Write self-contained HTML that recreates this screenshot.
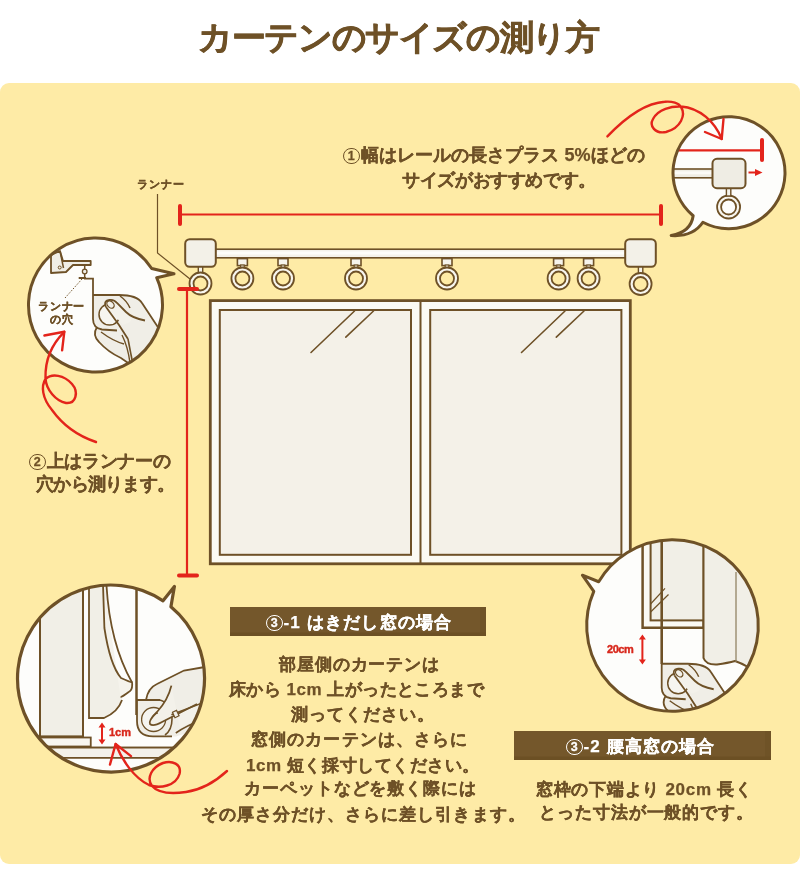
<!DOCTYPE html>
<html lang="ja">
<head>
<meta charset="utf-8">
<style>
html,body{margin:0;padding:0;background:#fff;}
body{width:800px;height:880px;position:relative;overflow:hidden;font-family:"Liberation Sans",sans-serif;color:#6e5127;}
.panel{position:absolute;left:0;top:83px;width:800px;height:781px;background:#feeba6;border-radius:9px;}
svg{position:absolute;left:0;top:0;}
.t{position:absolute;white-space:nowrap;font-weight:bold;line-height:1;-webkit-font-smoothing:antialiased;will-change:transform;}
.title{left:0;width:800px;top:20px;font-size:34px;}
.cd{display:inline-block;box-sizing:border-box;width:16.5px;height:16.5px;border:1.1px solid currentColor;border-radius:50%;font-family:"Liberation Sans",sans-serif;font-size:12.5px;line-height:15px;text-align:center;vertical-align:1.5px;-webkit-text-stroke:0.3px currentColor;letter-spacing:0;margin-right:1px;}
.bar{position:absolute;background:#74572b;box-shadow:inset 0 -3.5px 0 #6c5024, inset -6px 0 0 #6f5327;color:#fff;font-weight:bold;text-align:center;white-space:nowrap;}
</style>
</head>
<body>
<div class="panel"></div>
<svg width="800" height="880" viewBox="0 0 800 880">
<defs><clipPath id="cl1"><circle cx="95.5" cy="305" r="67"/></clipPath><clipPath id="cl2"><circle cx="729" cy="172.7" r="56"/></clipPath><clipPath id="cl3"><circle cx="111" cy="678.5" r="93.5"/></clipPath><clipPath id="cl4"><circle cx="672.5" cy="625.5" r="85.8"/></clipPath></defs>
<polyline points="157.5,194 157.5,253 190,279" fill="none" stroke="#6e5127" stroke-width="1.2"/>
<line x1="180" y1="214.5" x2="661" y2="214.5" stroke="#e3241b" stroke-width="2.2"/>
<line x1="180" y1="206" x2="180" y2="224" stroke="#e3241b" stroke-width="4" stroke-linecap="round"/>
<line x1="661" y1="206" x2="661" y2="224" stroke="#e3241b" stroke-width="4" stroke-linecap="round"/>
<rect x="212" y="249.2" width="416" height="8.6" fill="#f4f2ea" stroke="#6e5127" stroke-width="1.6"/>
<rect x="212" y="251.5" width="416" height="3" fill="#fdfdf9"/>
<rect x="237.4" y="258.6" width="10" height="7" fill="#f6f4ec" stroke="#6e5127" stroke-width="1.6"/><rect x="240.6" y="265" width="3.6" height="5" fill="#f6f4ec" stroke="#6e5127" stroke-width="1.2"/><circle cx="242.4" cy="278.5" r="9" fill="none" stroke="#6e5127" stroke-width="5.8"/><circle cx="242.4" cy="278.5" r="9" fill="none" stroke="#f8f6ef" stroke-width="2.2"/>
<rect x="278" y="258.6" width="10" height="7" fill="#f6f4ec" stroke="#6e5127" stroke-width="1.6"/><rect x="281.2" y="265" width="3.6" height="5" fill="#f6f4ec" stroke="#6e5127" stroke-width="1.2"/><circle cx="283" cy="278.5" r="9" fill="none" stroke="#6e5127" stroke-width="5.8"/><circle cx="283" cy="278.5" r="9" fill="none" stroke="#f8f6ef" stroke-width="2.2"/>
<rect x="351" y="258.6" width="10" height="7" fill="#f6f4ec" stroke="#6e5127" stroke-width="1.6"/><rect x="354.2" y="265" width="3.6" height="5" fill="#f6f4ec" stroke="#6e5127" stroke-width="1.2"/><circle cx="356" cy="278.5" r="9" fill="none" stroke="#6e5127" stroke-width="5.8"/><circle cx="356" cy="278.5" r="9" fill="none" stroke="#f8f6ef" stroke-width="2.2"/>
<rect x="442" y="258.6" width="10" height="7" fill="#f6f4ec" stroke="#6e5127" stroke-width="1.6"/><rect x="445.2" y="265" width="3.6" height="5" fill="#f6f4ec" stroke="#6e5127" stroke-width="1.2"/><circle cx="447" cy="278.5" r="9" fill="none" stroke="#6e5127" stroke-width="5.8"/><circle cx="447" cy="278.5" r="9" fill="none" stroke="#f8f6ef" stroke-width="2.2"/>
<rect x="553.6" y="258.6" width="10" height="7" fill="#f6f4ec" stroke="#6e5127" stroke-width="1.6"/><rect x="556.8000000000001" y="265" width="3.6" height="5" fill="#f6f4ec" stroke="#6e5127" stroke-width="1.2"/><circle cx="558.6" cy="278.5" r="9" fill="none" stroke="#6e5127" stroke-width="5.8"/><circle cx="558.6" cy="278.5" r="9" fill="none" stroke="#f8f6ef" stroke-width="2.2"/>
<rect x="583.6" y="258.6" width="10" height="7" fill="#f6f4ec" stroke="#6e5127" stroke-width="1.6"/><rect x="586.8000000000001" y="265" width="3.6" height="5" fill="#f6f4ec" stroke="#6e5127" stroke-width="1.2"/><circle cx="588.6" cy="278.5" r="9" fill="none" stroke="#6e5127" stroke-width="5.8"/><circle cx="588.6" cy="278.5" r="9" fill="none" stroke="#f8f6ef" stroke-width="2.2"/>
<rect x="198.3" y="266" width="4.4" height="7.5" fill="#f6f4ec" stroke="#6e5127" stroke-width="1.4"/><circle cx="200.5" cy="283.5" r="9" fill="none" stroke="#6e5127" stroke-width="5.8"/><circle cx="200.5" cy="283.5" r="9" fill="none" stroke="#f8f6ef" stroke-width="2.2"/>
<rect x="638.4" y="266" width="4.4" height="8" fill="#f6f4ec" stroke="#6e5127" stroke-width="1.4"/><circle cx="640.6" cy="284" r="9" fill="none" stroke="#6e5127" stroke-width="5.8"/><circle cx="640.6" cy="284" r="9" fill="none" stroke="#f8f6ef" stroke-width="2.2"/>
<rect x="185.2" y="239.2" width="30.6" height="27.6" rx="4.5" fill="#f3f1e8" stroke="#6e5127" stroke-width="2"/>
<rect x="625.2" y="239.2" width="30.6" height="27.6" rx="4.5" fill="#f3f1e8" stroke="#6e5127" stroke-width="2"/>
<line x1="187" y1="289" x2="187" y2="575" stroke="#e3241b" stroke-width="2.2"/>
<line x1="179" y1="289" x2="197" y2="289" stroke="#e3241b" stroke-width="4" stroke-linecap="round"/>
<line x1="179" y1="575.5" x2="197" y2="575.5" stroke="#e3241b" stroke-width="4" stroke-linecap="round"/>
<rect x="210.3" y="300.6" width="420" height="263.2" fill="#fbfaf3" stroke="#6e5127" stroke-width="2.8"/>
<rect x="219.8" y="310" width="191.2" height="244.8" fill="#f4f1e8" stroke="#6e5127" stroke-width="2"/>
<rect x="430.2" y="310" width="191.2" height="244.8" fill="#f4f1e8" stroke="#6e5127" stroke-width="2"/>
<line x1="420.5" y1="300" x2="420.5" y2="564" stroke="#6e5127" stroke-width="2"/>
<line x1="311" y1="352.5" x2="354.5" y2="311" stroke="#6e5127" stroke-width="1.6" stroke-linecap="round"/>
<line x1="345.8" y1="337.2" x2="373.5" y2="311" stroke="#6e5127" stroke-width="1.6" stroke-linecap="round"/>
<line x1="521.5" y1="352.5" x2="565.0" y2="311" stroke="#6e5127" stroke-width="1.6" stroke-linecap="round"/>
<line x1="556.3" y1="337.2" x2="584.0" y2="311" stroke="#6e5127" stroke-width="1.6" stroke-linecap="round"/>
<path d="M151.71,268.54 L174,273.8 L156.68,277.69 A67,67 0 1 1 151.71,268.54 Z" fill="#fdfdfb" stroke="none"/>
<g clip-path="url(#cl1)"><path d="M51,255 L60,251 L63,261 L90.7,261 L90.7,265 L73,265 L66,272 L51,273 Z" fill="#f0eee6" stroke="#6e5127" stroke-width="1.8" stroke-linejoin="round"/><line x1="60" y1="251" x2="63.5" y2="268" stroke="#6e5127" stroke-width="1.5"/><circle cx="59.7" cy="267.5" r="1.5" fill="none" stroke="#6e5127" stroke-width="1"/><line x1="84.7" y1="265" x2="84.7" y2="278" stroke="#6e5127" stroke-width="1.5"/><circle cx="84.7" cy="271.5" r="2.3" fill="#f0eee6" stroke="#6e5127" stroke-width="1.3"/><line x1="78.7" y1="278" x2="86" y2="278" stroke="#6e5127" stroke-width="1.8"/><polyline points="84,278.7 93,278.7 93,295" fill="none" stroke="#6e5127" stroke-width="1.8"/><line x1="65" y1="298" x2="82" y2="279" stroke="#6e5127" stroke-width="1" stroke-dasharray="1.5,1.5"/><g transform="translate(93,295) scale(1.0)"><path d="M0,0 L26,0 Q44,0 49,8 L80,56 L80,90 L40,72 L30,63 Q14,56 5,46 Q0,38 3,33 Q0,30 0,24 Z" fill="#f0eee7"/><path d="M0,0 L26,0 Q44,0 49,8 L78,52" fill="none" stroke="#6e5127" stroke-width="1.8"/><path d="M0,0 L0,24 Q0,33 9,34.5 L24,35.5" fill="none" stroke="#6e5127" stroke-width="1.8"/><circle cx="16.5" cy="19.5" r="10.5" fill="#f6f5f0" stroke="#6e5127" stroke-width="1.5"/><path d="M12,10 Q12,4 19,5 Q24,6 30,14 L37,22 Q40,26 35,28 L30,30 Z" fill="#f3f1ea"/><path d="M13,12 L26,30 L35,44" fill="none" stroke="#6e5127" stroke-width="1.8"/><path d="M13,12 Q10,6 16,5 Q21,4 24,8 Q30,14 33,17 Q39,23 52,25.5" fill="none" stroke="#6e5127" stroke-width="1.8"/><ellipse cx="17.5" cy="9.5" rx="4.2" ry="3" transform="rotate(45 17.5 9.5)" fill="none" stroke="#6e5127" stroke-width="1.3"/><path d="M27,1 Q34,6 37,13" fill="none" stroke="#6e5127" stroke-width="1.5"/><path d="M4,32 Q-1,40 6,47 Q15,57 28,63 L38,70" fill="none" stroke="#6e5127" stroke-width="1.8"/><path d="M8,37 Q20,46 31,49" fill="none" stroke="#6e5127" stroke-width="1.4"/><path d="M29,40 Q35,52 37,68" fill="none" stroke="#6e5127" stroke-width="1.4"/><path d="M35,44 L40,70" fill="none" stroke="#6e5127" stroke-width="1.6"/></g></g>
<path d="M151.71,268.54 L174,273.8 L156.68,277.69 A67,67 0 1 1 151.71,268.54 Z" fill="none" stroke="#6e5127" stroke-width="3" stroke-linejoin="round"/>
<path d="M693.16,215.73 Q691,232 671.2,235.5 Q693,237 702.86,222.23 A56,56 0 1 0 693.16,215.73 Z" fill="#fdfdfb" stroke="none"/>
<g clip-path="url(#cl2)"><line x1="660" y1="150.3" x2="762" y2="150.3" stroke="#e3241b" stroke-width="2.2"/><line x1="762" y1="140" x2="762" y2="160" stroke="#e3241b" stroke-width="4" stroke-linecap="round"/><rect x="660" y="169" width="54" height="8.8" fill="#efede4" stroke="#6e5127" stroke-width="1.6"/><rect x="660" y="171.3" width="53" height="3" fill="#fbfaf6"/><circle cx="728.6" cy="207" r="9.5" fill="none" stroke="#6e5127" stroke-width="5.8"/><circle cx="728.6" cy="207" r="9.5" fill="none" stroke="#f8f6ef" stroke-width="2.2"/><rect x="726.4" y="188" width="4.4" height="8" fill="#f6f4ec" stroke="#6e5127" stroke-width="1.4"/><rect x="712.5" y="158.8" width="33" height="29.4" rx="4.5" fill="#efede4" stroke="#6e5127" stroke-width="2"/><line x1="748.5" y1="172.5" x2="757" y2="172.5" stroke="#e3241b" stroke-width="2"/><path d="M755,169 L762.5,172.5 L755,176 Z" fill="#e3241b"/></g>
<path d="M693.16,215.73 Q691,232 671.2,235.5 Q693,237 702.86,222.23 A56,56 0 1 0 693.16,215.73 Z" fill="none" stroke="#6e5127" stroke-width="3" stroke-linejoin="round"/>
<path d="M163.04,600.82 L174.4,586.4 L170.92,606.72 A93.5,93.5 0 1 1 163.04,600.82 Z" fill="#fdfdfb" stroke="none"/>
<g clip-path="url(#cl3)"><rect x="40" y="560" width="43" height="176.4" fill="#f1efe7" stroke="#6e5127" stroke-width="2"/><path d="M89,560 L89,718 L104,718 Q118,712 124.5,692.5 Q110,660 106,600 L106,560 Z" fill="#f1efe7"/><path d="M89,560 L89,718 L104,718 Q118,712 122,700" fill="none" stroke="#6e5127" stroke-width="1.8"/><path d="M102.7,575 L104.4,628 Q110,665 121,678 Q130,682 132,682.4 Q133,690 128.7,692 Q122,697 120.6,697" fill="#f5f3ec" stroke="#6e5127" stroke-width="1.8"/><path d="M106,575 Q108,640 132,682.4" fill="none" stroke="#6e5127" stroke-width="1.8"/><line x1="136.5" y1="575" x2="136.5" y2="715" stroke="#6e5127" stroke-width="2.5"/><rect x="20" y="737.5" width="70.75" height="9" fill="#f8f6f0" stroke="#6e5127" stroke-width="1.8"/><line x1="10" y1="747.6" x2="220" y2="747.6" stroke="#6e5127" stroke-width="1.8"/><rect x="10" y="747.6" width="210" height="10.2" fill="#f3f1ea"/><line x1="10" y1="757.8" x2="220" y2="757.8" stroke="#6e5127" stroke-width="1.8"/><line x1="10" y1="747.6" x2="220" y2="747.6" stroke="#6e5127" stroke-width="1.8"/><path d="M137,700 L137,722 Q137,736.4 153,736.4 L176,736.4 L210,725 L210,664 L184,670.5 L157,684 Q148,688 146,700 Z" fill="#f0eee7"/><path d="M137,700 L160,700" fill="none" stroke="#6e5127" stroke-width="1.8"/><path d="M137,700 L137,721 Q137,736.4 153,736.4 L172,736.4" fill="none" stroke="#6e5127" stroke-width="1.8"/><path d="M160,700 Q172,704 172,719 Q172,730 165,735" fill="none" stroke="#6e5127" stroke-width="1.6"/><circle cx="153.6" cy="719.5" r="12" fill="#f5f4ef" stroke="#6e5127" stroke-width="1.3"/><path d="M146,700 Q148,688 157,684 L184,670.5 L205,667" fill="none" stroke="#6e5127" stroke-width="1.8"/><path d="M171.4,685.6 Q168,700 157,712 Q148,721 150,724 Q153,727 162,722 L197,703 L210,700 L210,712 L180,728 Z" fill="#f3f1ea"/><path d="M171.4,685.6 Q168,700 157,712 Q148,721 150,724 Q153,727 162,722 L197,704" fill="none" stroke="#6e5127" stroke-width="1.8"/><path d="M152,718 Q153,714 158,713" fill="none" stroke="#6e5127" stroke-width="1.1"/><path d="M171.4,714.8 L205,702" fill="none" stroke="#6e5127" stroke-width="1.6"/><path d="M175.8,733 Q186,726 208,717" fill="none" stroke="#6e5127" stroke-width="1.6"/><rect x="173.5" y="711" width="4.5" height="6" transform="rotate(-25 175.8 714)" fill="#f3f1ea" stroke="#6e5127" stroke-width="1.2"/><line x1="102" y1="726" x2="102" y2="741" stroke="#e3241b" stroke-width="2"/><path d="M98.5,727.5 L102,722.5 L105.5,727.5 Z M98.5,739.5 L102,744.5 L105.5,739.5 Z" fill="#e3241b"/></g>
<path d="M163.04,600.82 L174.4,586.4 L170.92,606.72 A93.5,93.5 0 1 1 163.04,600.82 Z" fill="none" stroke="#6e5127" stroke-width="3.2" stroke-linejoin="round"/>
<path d="M598.69,581.75 L582.4,575.2 L593.8,591.32 A85.8,85.8 0 1 0 598.69,581.75 Z" fill="#fdfdfb" stroke="none"/>
<g clip-path="url(#cl4)"><rect x="642.6" y="530" width="61" height="97.75" fill="#faf9f3" stroke="#6e5127" stroke-width="2.5"/><rect x="650.6" y="530" width="53" height="90.4" fill="#f1efe7" stroke="#6e5127" stroke-width="2"/><line x1="650.6" y1="612" x2="668.5" y2="594.5" stroke="#6e5127" stroke-width="1.2"/><line x1="650.6" y1="604" x2="665" y2="588.4" stroke="#6e5127" stroke-width="1.2"/><path d="M703.5,530 L703.5,658 Q706,665 717,664.5 Q728,663 735,661 Q741,663 748,667 L780,667 L780,530 Z" fill="#f1efe7" stroke="#6e5127" stroke-width="2"/><line x1="736" y1="572" x2="736" y2="662" stroke="#8a7a5a" stroke-width="1.2"/><line x1="661.7" y1="530" x2="661.7" y2="664" stroke="#6e5127" stroke-width="2.6"/><g transform="translate(661.7,663.75) scale(1.0)"><path d="M0,0 L26,0 Q44,0 49,8 L80,56 L80,90 L40,72 L30,63 Q14,56 5,46 Q0,38 3,33 Q0,30 0,24 Z" fill="#f0eee7"/><path d="M0,0 L26,0 Q44,0 49,8 L78,52" fill="none" stroke="#6e5127" stroke-width="1.8"/><path d="M0,0 L0,24 Q0,33 9,34.5 L24,35.5" fill="none" stroke="#6e5127" stroke-width="1.8"/><circle cx="16.5" cy="19.5" r="10.5" fill="#f6f5f0" stroke="#6e5127" stroke-width="1.5"/><path d="M12,10 Q12,4 19,5 Q24,6 30,14 L37,22 Q40,26 35,28 L30,30 Z" fill="#f3f1ea"/><path d="M13,12 L26,30 L35,44" fill="none" stroke="#6e5127" stroke-width="1.8"/><path d="M13,12 Q10,6 16,5 Q21,4 24,8 Q30,14 33,17 Q39,23 52,25.5" fill="none" stroke="#6e5127" stroke-width="1.8"/><ellipse cx="17.5" cy="9.5" rx="4.2" ry="3" transform="rotate(45 17.5 9.5)" fill="none" stroke="#6e5127" stroke-width="1.3"/><path d="M27,1 Q34,6 37,13" fill="none" stroke="#6e5127" stroke-width="1.5"/><path d="M4,32 Q-1,40 6,47 Q15,57 28,63 L38,70" fill="none" stroke="#6e5127" stroke-width="1.8"/><path d="M8,37 Q20,46 31,49" fill="none" stroke="#6e5127" stroke-width="1.4"/><path d="M29,40 Q35,52 37,68" fill="none" stroke="#6e5127" stroke-width="1.4"/><path d="M35,44 L40,70" fill="none" stroke="#6e5127" stroke-width="1.6"/></g><line x1="642.4" y1="638" x2="642.4" y2="661" stroke="#e3241b" stroke-width="2"/><path d="M638.9,639.5 L642.4,634.5 L645.9,639.5 Z M638.9,659.5 L642.4,664.5 L645.9,659.5 Z" fill="#e3241b"/></g>
<path d="M598.69,581.75 L582.4,575.2 L593.8,591.32 A85.8,85.8 0 1 0 598.69,581.75 Z" fill="none" stroke="#6e5127" stroke-width="3" stroke-linejoin="round"/>
<path d="M607.4,136.4 C625,118 645,103 664.75,101.75 C672,101 679,103 681,107 C686,115 681,128 666,132 C655,134 649,126 653,119 C658,109 672,106 681,106.5 C700,108 715,122 721.7,139" fill="none" stroke="#e3241b" stroke-width="2.4" stroke-linecap="round" stroke-linejoin="round"/>
<path d="M705,132 L721.7,139 L723.5,119" fill="none" stroke="#e3241b" stroke-width="2.4" stroke-linecap="round" stroke-linejoin="round"/>
<path d="M64.3,331.8 C52,344 45,360 45.5,378 C46,390 56,401 66,403 C76,404 79,392 72,384 C64,375 52,373 45.5,379 C41,386 42,398 52,410 C62,424 78,436 96,442" fill="none" stroke="#e3241b" stroke-width="2.4" stroke-linecap="round" stroke-linejoin="round"/>
<path d="M44.4,335.5 L64.3,331.8 L62.1,350.3" fill="none" stroke="#e3241b" stroke-width="2.4" stroke-linecap="round" stroke-linejoin="round"/>
<path d="M115.6,744 C122,760 134,778 149,785 C160,789 176,786 179.5,774 C182,764 172,760 163,763 C152,767 146,778 152,786 C158,793 172,794 186,792 C200,790 215,782 227,771" fill="none" stroke="#e3241b" stroke-width="2.4" stroke-linecap="round" stroke-linejoin="round"/>
<path d="M110,764.5 L115.6,744 L131,756.1" fill="none" stroke="#e3241b" stroke-width="2.4" stroke-linecap="round" stroke-linejoin="round"/>
</svg>
<div class="bar" style="left:230px;top:606.6px;width:256px;height:29.2px;"><div class="t" id="t0" style="left:35.50px;top:7.70px;font-size:17px;letter-spacing:1.182px;color:#fff;-webkit-text-stroke:0.25px #fff;"><span class="cd">3</span>-1 はきだし窓の場合</div></div><div class="bar" style="left:513.6px;top:731.2px;width:257px;height:28.8px;"><div class="t" id="t1" style="left:52.90px;top:6.50px;font-size:17px;letter-spacing:1.133px;color:#fff;-webkit-text-stroke:0.25px #fff;"><span class="cd">3</span>-2 腰高窓の場合</div></div>
<div class="t" id="t2" style="left:198.00px;top:19.85px;font-size:34px;letter-spacing:-1.364px;color:#6e5127;-webkit-text-stroke:0.7px #6e5127;">カーテンのサイズの測り方</div><div class="t" id="t3" style="left:343.00px;top:146.40px;font-size:18px;letter-spacing:0.082px;color:#6e5127;-webkit-text-stroke:0.25px #6e5127;"><span class="cd">1</span>幅はレールの長さプラス 5%ほどの</div><div class="t" id="t4" style="left:402.00px;top:171.20px;font-size:18px;letter-spacing:-0.360px;color:#6e5127;-webkit-text-stroke:0.25px #6e5127;">サイズがおすすめです。</div><div class="t" id="t5" style="left:136.50px;top:179.00px;font-size:11px;letter-spacing:1.067px;color:#6e5127;-webkit-text-stroke:0.4px #6e5127;">ランナー</div><div class="t" id="t6" style="left:37.75px;top:301.15px;font-size:11px;letter-spacing:0.800px;color:#6e5127;-webkit-text-stroke:0.4px #6e5127;">ランナー</div><div class="t" id="t7" style="left:50.00px;top:314.35px;font-size:11px;letter-spacing:0.600px;color:#6e5127;-webkit-text-stroke:0.4px #6e5127;">の穴</div><div class="t" id="t8" style="left:29.00px;top:452.20px;font-size:18px;letter-spacing:-0.286px;color:#6e5127;-webkit-text-stroke:0.25px #6e5127;"><span class="cd">2</span>上はランナーの</div><div class="t" id="t9" style="left:36.00px;top:475.20px;font-size:18px;letter-spacing:-0.714px;color:#6e5127;-webkit-text-stroke:0.25px #6e5127;">穴から測ります。</div><div class="t" id="t10" style="left:278.50px;top:656.10px;font-size:17px;letter-spacing:0.875px;color:#6e5127;-webkit-text-stroke:0.25px #6e5127;">部屋側のカーテンは</div><div class="t" id="t11" style="left:229.00px;top:681.20px;font-size:17px;letter-spacing:0.463px;color:#6e5127;-webkit-text-stroke:0.25px #6e5127;">床から 1cm 上がったところまで</div><div class="t" id="t12" style="left:291.00px;top:705.80px;font-size:17px;letter-spacing:0.943px;color:#6e5127;-webkit-text-stroke:0.25px #6e5127;">測ってください。</div><div class="t" id="t13" style="left:250.50px;top:730.60px;font-size:17px;letter-spacing:1.109px;color:#6e5127;-webkit-text-stroke:0.25px #6e5127;">窓側のカーテンは、さらに</div><div class="t" id="t14" style="left:246.00px;top:757.30px;font-size:17px;letter-spacing:0.543px;color:#6e5127;-webkit-text-stroke:0.25px #6e5127;">1cm 短く採寸してください。</div><div class="t" id="t15" style="left:243.50px;top:779.50px;font-size:17px;letter-spacing:0.917px;color:#6e5127;-webkit-text-stroke:0.25px #6e5127;">カーペットなどを敷く際には</div><div class="t" id="t16" style="left:201.00px;top:806.10px;font-size:17px;letter-spacing:1.035px;color:#6e5127;-webkit-text-stroke:0.25px #6e5127;">その厚さ分だけ、さらに差し引きます。</div><div class="t" id="t17" style="left:535.50px;top:780.60px;font-size:17px;letter-spacing:0.714px;color:#6e5127;-webkit-text-stroke:0.25px #6e5127;">窓枠の下端より 20cm 長く</div><div class="t" id="t18" style="left:539.00px;top:804.40px;font-size:17px;letter-spacing:0.927px;color:#6e5127;-webkit-text-stroke:0.25px #6e5127;">とった寸法が一般的です。</div><div class="t" id="t19" style="left:109.00px;top:726.80px;font-size:11px;letter-spacing:0.000px;color:#d8281c;-webkit-text-stroke:0.4px #d8281c;">1cm</div><div class="t" id="t20" style="left:607.00px;top:643.50px;font-size:11px;letter-spacing:-0.467px;color:#d8281c;-webkit-text-stroke:0.4px #d8281c;">20cm</div>
</body>
</html>
